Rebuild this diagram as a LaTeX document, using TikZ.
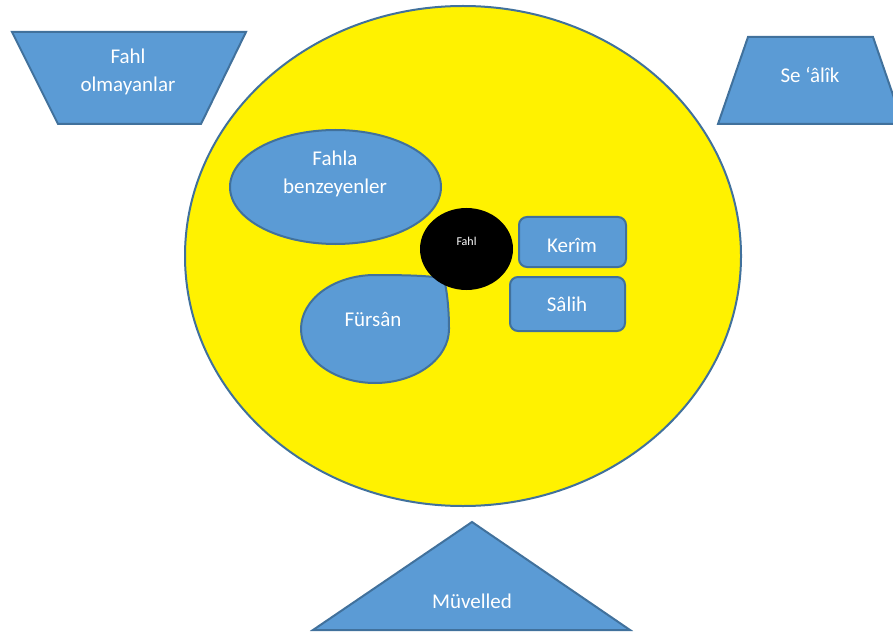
\documentclass[tikz,border=0pt]{standalone}
\usepackage{fontspec}
\setmainfont{Carlito}
\usetikzlibrary{shapes,backgrounds,calc}
\definecolor{shapeblue}{HTML}{5B9BD5}
\definecolor{edgeblue}{HTML}{41719C}

\begin{document}
\begin{tikzpicture}[x=1pt,y=-1pt,
  blueshape/.style={fill=shapeblue,draw=edgeblue,line width=2pt},
  shapetext/.style={text=white,font=\fontsize{21}{28}\selectfont,align=center}]
\useasboundingbox (0,0) rectangle (893,636);
\clip (0,0) rectangle (893,636);

% outer trapezoids
\draw [blueshape] (12,32) -- (246,32) -- (201,124) -- (58,124) -- cycle;
\node [shapetext] (olmayan) at (128,72) {Fahl\\olmayanlar};

\draw [blueshape] (748,37) -- (873,37) -- (903,124) -- (718,124) -- cycle;
\node [shapetext] (sealik) at (810,75) {Se ‘âlîk};

% big circle
\draw [fill=yellow,draw=edgeblue,line width=2pt] (463,256) ellipse [x radius=278, y radius=250];

\draw [blueshape] (335.5,187) ellipse [x radius=105.5, y radius=57];
\node [shapetext] (benzeyen) at (335,174) {Fahla\\benzeyenler};

% teardrop
\draw [blueshape] (449,329) arc [start angle=0, end angle=270, x radius=74, y radius=54]
  .. controls (410,275) and (436,276) .. (444,279)
  .. controls (448,295) and (449,315) .. cycle;
\node [shapetext] (fursan) at (373,319) {Fürsân};

% center
\fill (466.5,249) ellipse [x radius=46.5, y radius=41];
\node [text=white,font=\fontsize{12}{14}\selectfont] (fahl) at (466.5,241) {Fahl};

\draw [blueshape,rounded corners=8pt] (519,217) rectangle (626,267);
\node [shapetext] (kerim) at (572,245) {Kerîm};

\draw [blueshape,rounded corners=8pt] (510,277) rectangle (625,331);
\node [shapetext] (salih) at (567,304) {Sâlih};

% bottom triangle
\draw [blueshape] (472,522) -- (630,630) -- (313,630) -- cycle;
\node [shapetext] (muvelled) at (472,601) {Müvelled};

\end{tikzpicture}
\end{document}
